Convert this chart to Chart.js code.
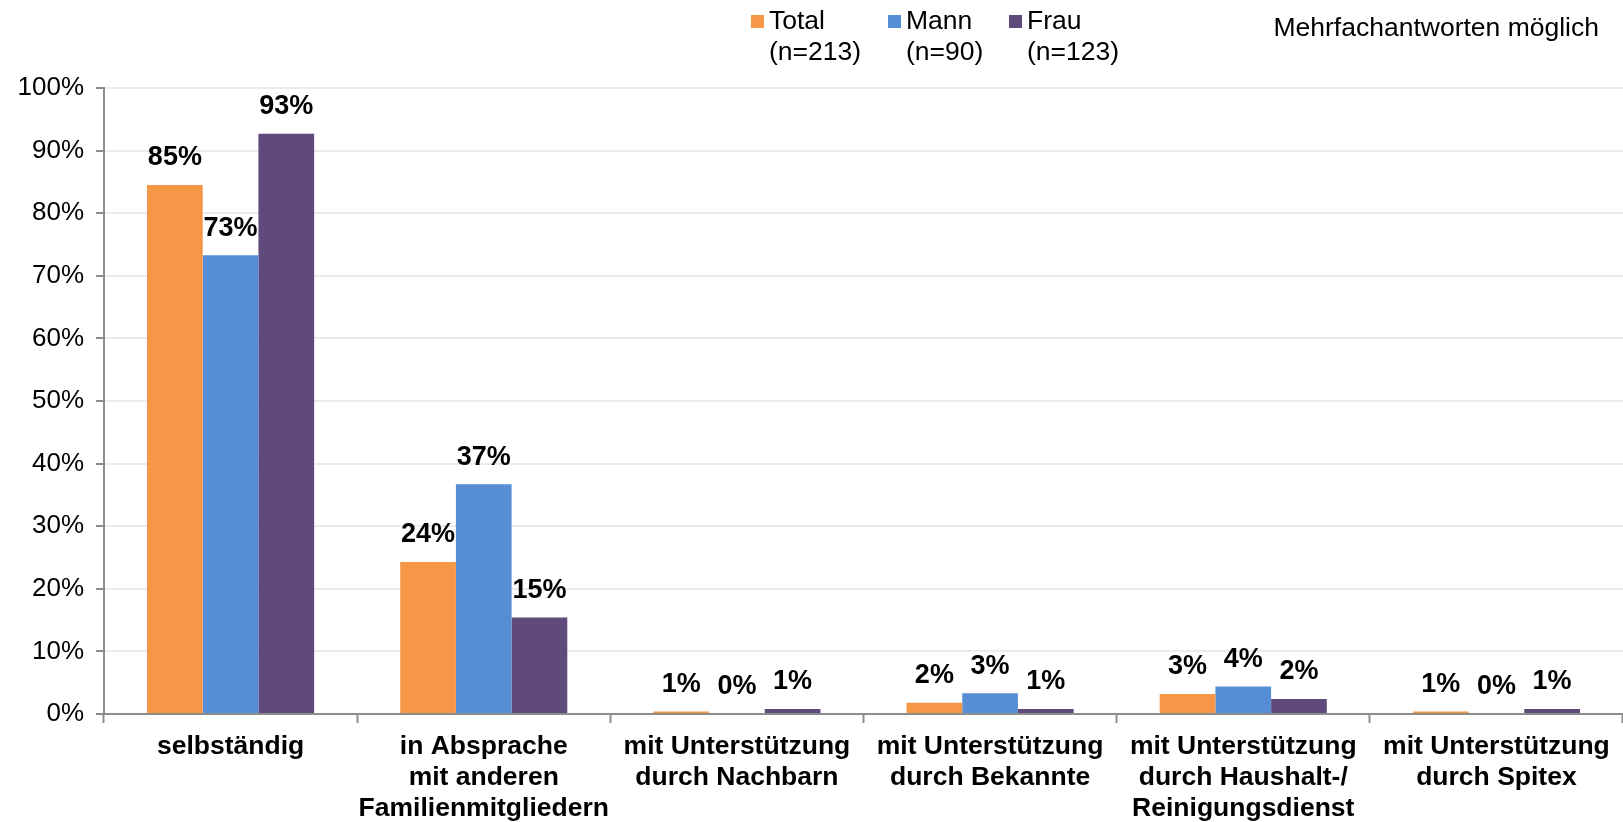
<!DOCTYPE html>
<html lang="de">
<head>
<meta charset="utf-8">
<title>Mehrfachantworten</title>
<script src="https://cdn.jsdelivr.net/npm/chart.js@4.4.1/dist/chart.umd.min.js"></script>
<style>
    html, body { margin: 0; padding: 0; background: #ffffff; }
    #wrap { width: 1623px; height: 822px; position: relative; }
</style>
</head>
<body>
<div id="wrap"><canvas id="chart"></canvas></div>
<script>
// Daten
const categories = [
    ['selbständig'],
    ['in Absprache', 'mit anderen', 'Familienmitgliedern'],
    ['mit Unterstützung', 'durch Nachbarn'],
    ['mit Unterstützung', 'durch Bekannte'],
    ['mit Unterstützung', 'durch Haushalt-/', 'Reinigungsdienst'],
    ['mit Unterstützung', 'durch Spitex']
];
const seriesNames = ['Total', 'Mann', 'Frau'];
const seriesN = ['(n=213)', '(n=90)', '(n=123)'];
const totalValues = [84.5, 24.3, 0.4, 1.8, 3.2, 0.4];
const mannValues = [73.3, 36.7, 0, 3.3, 4.4, 0];
const frauValues = [92.7, 15.4, 0.8, 0.8, 2.4, 0.8];
const totalLabels = ['85%', '24%', '1%', '2%', '3%', '1%'];
const mannLabels = ['73%', '37%', '0%', '3%', '4%', '0%'];
const frauLabels = ['93%', '15%', '1%', '1%', '2%', '1%'];
const yTicks = [0, 10, 20, 30, 40, 50, 60, 70, 80, 90, 100];
const note = 'Mehrfachantworten möglich';

const colors = ['#F79646', '#558ED5', '#604A7B'];
const fontFamily = '"Liberation Sans", Arial, sans-serif';
const axisGray = '#8c8c8c';

// Datenbeschriftungen über den Balken
const valueLabels = {
    id: 'valueLabels',
    afterDatasetsDraw(chart) {
        const ctx = chart.ctx;
        const texts = [totalLabels, mannLabels, frauLabels];
        ctx.save();
        ctx.font = 'bold 27px ' + fontFamily;
        ctx.fillStyle = '#000000';
        ctx.textAlign = 'center';
        ctx.textBaseline = 'middle';
        chart.data.datasets.forEach((ds, i) => {
            chart.getDatasetMeta(i).data.forEach((bar, j) => {
                ctx.fillText(texts[i][j], bar.x, bar.y - 27);
            });
        });
        ctx.restore();
    }
};

// Legende oben und Hinweis rechts
const topLegend = {
    id: 'topLegend',
    afterDraw(chart) {
        const ctx = chart.ctx;
        const xs = [751, 888, 1009];
        ctx.save();
        ctx.font = '26.5px ' + fontFamily;
        ctx.fillStyle = '#000000';
        ctx.textBaseline = 'middle';
        seriesNames.forEach((name, i) => {
            ctx.fillStyle = colors[i];
            ctx.fillRect(xs[i], 15, 13, 13);
            ctx.fillStyle = '#000000';
            ctx.textAlign = 'left';
            ctx.fillText(name, xs[i] + 18, 22);
            ctx.fillText(seriesN[i], xs[i] + 18, 53);
        });
        ctx.textAlign = 'right';
        ctx.fillText(note, 1599, 29);
        ctx.restore();
    }
};

new Chart(document.getElementById('chart'), {
    type: 'bar',
    data: {
        labels: categories,
        datasets: [
            { label: seriesNames[0], data: totalValues, backgroundColor: colors[0] },
            { label: seriesNames[1], data: mannValues, backgroundColor: colors[1] },
            { label: seriesNames[2], data: frauValues, backgroundColor: colors[2] }
        ]
    },
    options: {
        responsive: true,
        maintainAspectRatio: false,
        animation: false,
        layout: { padding: { top: 88, left: 0, right: 0, bottom: 0 } },
        datasets: {
            bar: { categoryPercentage: 0.66, barPercentage: 1.0 }
        },
        plugins: {
            legend: { display: false },
            tooltip: { enabled: false }
        },
        scales: {
            x: {
                afterFit: (s) => { s.height = 108; },
                border: { color: axisGray, width: 2 },
                grid: {
                    offset: true,
                    drawOnChartArea: false,
                    drawTicks: true,
                    tickLength: 9,
                    tickColor: axisGray,
                    tickWidth: 2
                },
                ticks: {
                    color: '#000000',
                    padding: 8,
                    maxRotation: 0,
                    autoSkip: false,
                    font: { family: fontFamily, size: 26.5, weight: 'bold', lineHeight: 1.17 }
                }
            },
            y: {
                min: 0,
                max: 100,
                afterFit: (s) => { s.width = 104; },
                afterBuildTicks: (s) => { s.ticks = yTicks.map(v => ({ value: v })); },
                border: { color: axisGray, width: 2 },
                grid: {
                    color: '#ebebeb',
                    lineWidth: 2,
                    tickColor: axisGray,
                    tickLength: 8,
                    tickWidth: 2
                },
                ticks: {
                    color: '#000000',
                    padding: 12,
                    font: { family: fontFamily, size: 26 },
                    callback: (v) => v + '%'
                }
            }
        }
    },
    plugins: [valueLabels, topLegend]
});
</script>
</body>
</html>
